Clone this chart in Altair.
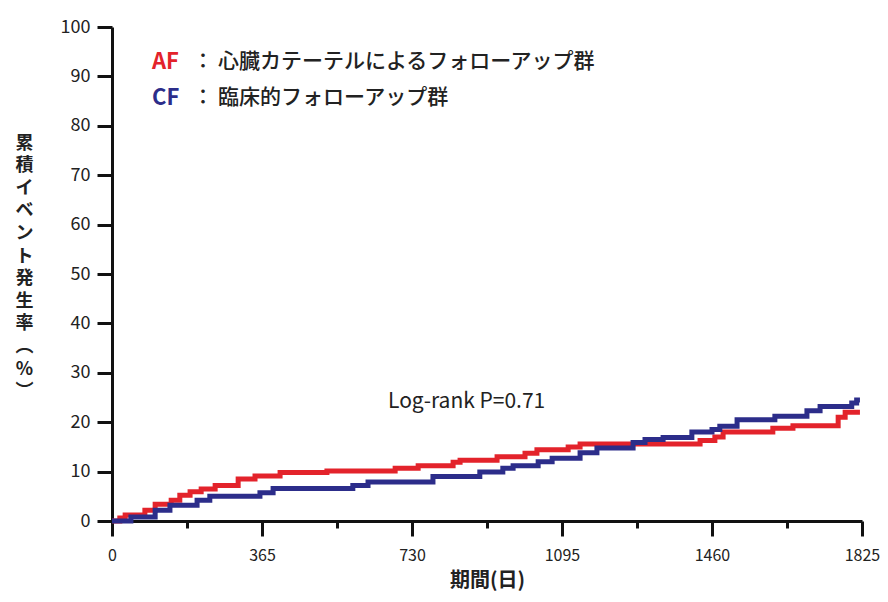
import altair as alt
import pandas as pd

# AF: cardiac catheter follow-up group (red)
af_days = [0, 19, 32, 80, 105, 144, 165, 190, 217, 251, 307, 348, 409, 523, 689, 745, 830, 847, 937, 1005,
           1034, 1110, 1139, 1431, 1467, 1487, 1608, 1657, 1767, 1784, 1820]
af_pct = [0, 0.6, 1.2, 2.2, 3.4, 4.2, 5.2, 5.9, 6.5, 7.2, 8.5, 9.1, 9.8, 10.1, 10.7, 11.2, 11.9, 12.3, 13.0, 13.7,
          14.4, 15.0, 15.6, 16.3, 17.0, 18.0, 18.8, 19.3, 21.0, 22.0, 22.0]

# CF: clinical follow-up group (blue)
cf_days = [0, 46, 105, 141, 207, 238, 360, 392, 586, 623, 781, 895, 951, 976, 1037, 1071, 1139, 1180, 1268, 1297,
           1341, 1411, 1460, 1479, 1521, 1613, 1691, 1723, 1800, 1812, 1820]
cf_pct = [0, 0.8, 2.2, 3.2, 4.2, 5.0, 5.7, 6.6, 7.2, 7.9, 9.0, 9.9, 10.7, 11.2, 12.0, 12.7, 13.8, 14.8, 15.9, 16.5,
          16.9, 18.0, 18.5, 19.2, 20.5, 21.2, 22.3, 23.2, 23.9, 24.5, 24.5]

x_ticks = [0, 182.5, 365, 547.5, 730, 912.5, 1095, 1277.5, 1460, 1642.5, 1825]
y_ticks = [0, 10, 20, 30, 40, 50, 60, 70, 80, 90, 100]
y_title = ["累", "積", "イ", "ベ", "ン", "ト", "発", "生", "率", "︵", "%", "︶"]
x_title = "期間(日)"
af_label = "心臓カテーテルによるフォローアップ群"
cf_label = "臨床的フォローアップ群"
pval_label = "Log-rank P=0.71"

RED = "#e3232b"
BLUE = "#2c2d8a"
FONT = "Noto Sans CJK JP"

af_df = pd.DataFrame({"day": af_days, "pct": af_pct})
cf_df = pd.DataFrame({"day": cf_days, "pct": cf_pct})

major = "datum.value % 365 === 0"

x_enc = alt.X(
    "day:Q",
    scale=alt.Scale(domain=[0, 1825], nice=False, zero=False),
    axis=alt.Axis(
        values=x_ticks, format="d", labelExpr=f"{major} ? datum.label : ''",
        tickSize={"condition": {"test": major, "value": 15}, "value": 7},
        tickWidth=3, tickColor="#111", domainWidth=3, domainColor="#111",
        labelFontSize=16, labelColor="#222", labelPadding=11, labelOverlap=False, labelFlush=False,
        grid=False, title=x_title, titleFontSize=20, titleFontWeight="bold", titleColor="#222",
        titlePadding=7,
    ),
)
y_enc = alt.Y(
    "pct:Q",
    scale=alt.Scale(domain=[0, 100], nice=False),
    axis=alt.Axis(
        values=y_ticks, tickSize=15, tickWidth=3, tickColor="#111", domainWidth=3, domainColor="#111",
        labelFontSize=18, labelColor="#222", labelPadding=7, grid=False,
        title=y_title, titleAngle=0, titleX=-88, titleY=107, titleBaseline="top", titleAlign="center",
        titleLineHeight=22.6, titleFontSize=18, titleFontWeight="bold", titleColor="#222",
    ),
)

red_line = alt.Chart(af_df).mark_line(interpolate="step-after", color=RED, strokeWidth=5).encode(x=x_enc, y=y_enc)
blue_line = alt.Chart(cf_df).mark_line(interpolate="step-after", color=BLUE, strokeWidth=5).encode(x=x_enc, y=y_enc)


def label(text, x, y, color="#222", size=21, weight=500, align="left"):
    return alt.Chart(pd.DataFrame({"t": [text]})).mark_text(
        align=align, baseline="middle", fontSize=size, fontWeight=weight, color=color, font=FONT
    ).encode(text="t:N", x=alt.value(x), y=alt.value(y))


texts = [
    label("AF", 40, 35, RED, 22, "bold"),
    label("：", 91, 35, "#222", 21, 500, "center"),
    label(af_label, 106, 35),
    label("CF", 40, 71, BLUE, 22, "bold"),
    label("：", 91, 71, "#222", 21, 500, "center"),
    label(cf_label, 106, 71),
    label(pval_label, 276, 375, "#222", 21, "normal"),
]

chart = alt.layer(red_line, blue_line, *texts).properties(
    width=750, height=494,
    autosize="none",
    padding={"left": 104, "top": 19, "right": 18, "bottom": 73},
).configure(font=FONT, background="white").configure_view(stroke=None)

chart.save("out.html", embed_options={"renderer": "svg", "actions": False})
